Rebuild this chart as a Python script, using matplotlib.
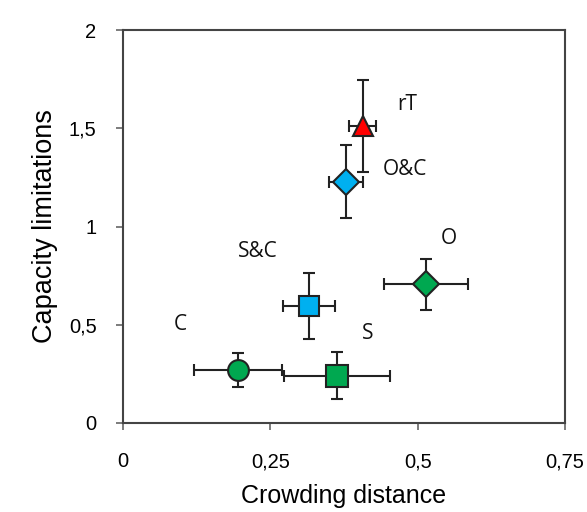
import matplotlib
matplotlib.use("Agg")
import matplotlib.pyplot as plt

labels = ["rT", "O&C", "O", "S&C", "C", "S"]
x = [0.407, 0.378, 0.514, 0.316, 0.195, 0.363]
y = [1.51, 1.228, 0.707, 0.595, 0.27, 0.24]
xerr = [0.023, 0.029, 0.071, 0.044, 0.075, 0.09]
yerr = [0.235, 0.185, 0.13, 0.17, 0.088, 0.12]
markers = ["^", "D", "D", "s", "o", "s"]
colors = ["#FF0000", "#00B0F0", "#00A850", "#00B0F0", "#00A850", "#00A850"]
sizes = [15, 13, 13, 15, 15, 16]
label_x = [0.482, 0.479, 0.553, 0.229, 0.097, 0.416]
label_y = [1.62, 1.29, 0.94, 0.875, 0.50, 0.453]

xticks = [0, 0.25, 0.5, 0.75]
xticklabels = ["0", "0,25", "0,5", "0,75"]
yticks = [0, 0.5, 1, 1.5, 2]
yticklabels = ["0", "0,5", "1", "1,5", "2"]

fig = plt.figure(figsize=(5.87, 5.12), dpi=100)
ax = fig.add_axes([123/587, 1-423/512, (565-123)/587, (423-30)/512])

for i in range(len(x)):
    ax.errorbar(x[i], y[i], xerr=xerr[i], yerr=yerr[i], fmt="none",
                ecolor="#222222", elinewidth=1.5, capsize=4, capthick=1.5, zorder=2)
    ax.plot(x[i], y[i], marker=markers[i], markersize=sizes[i], color=colors[i],
            markeredgecolor="#222222", markeredgewidth=1.5, linestyle="none", zorder=3)
    ax.text(label_x[i], label_y[i], labels[i], fontsize=15, family="Open Sans",
            ha="center", va="center", color="#111111")

ax.set_xlim(0, 0.75)
ax.set_ylim(0, 2)
ax.set_xticks(xticks)
ax.set_xticklabels(xticklabels, family="Liberation Sans", fontsize=14.5)
ax.set_yticks(yticks)
ax.set_yticklabels(yticklabels, family="Liberation Sans", fontsize=14.5)
ax.tick_params(direction="out", length=5, width=1.2, color="#666666")
ax.tick_params(axis="x", pad=16)
ax.tick_params(axis="y", pad=14)
for s in ax.spines.values():
    s.set_color("#444444")
    s.set_linewidth(1.5)
ax.set_xlabel("Crowding distance", family="Liberation Sans", fontsize=18, labelpad=9)
ax.set_ylabel("Capacity limitations", family="Liberation Sans", fontsize=19.5, labelpad=8)

fig.savefig("out.png", dpi=100, facecolor="white")
